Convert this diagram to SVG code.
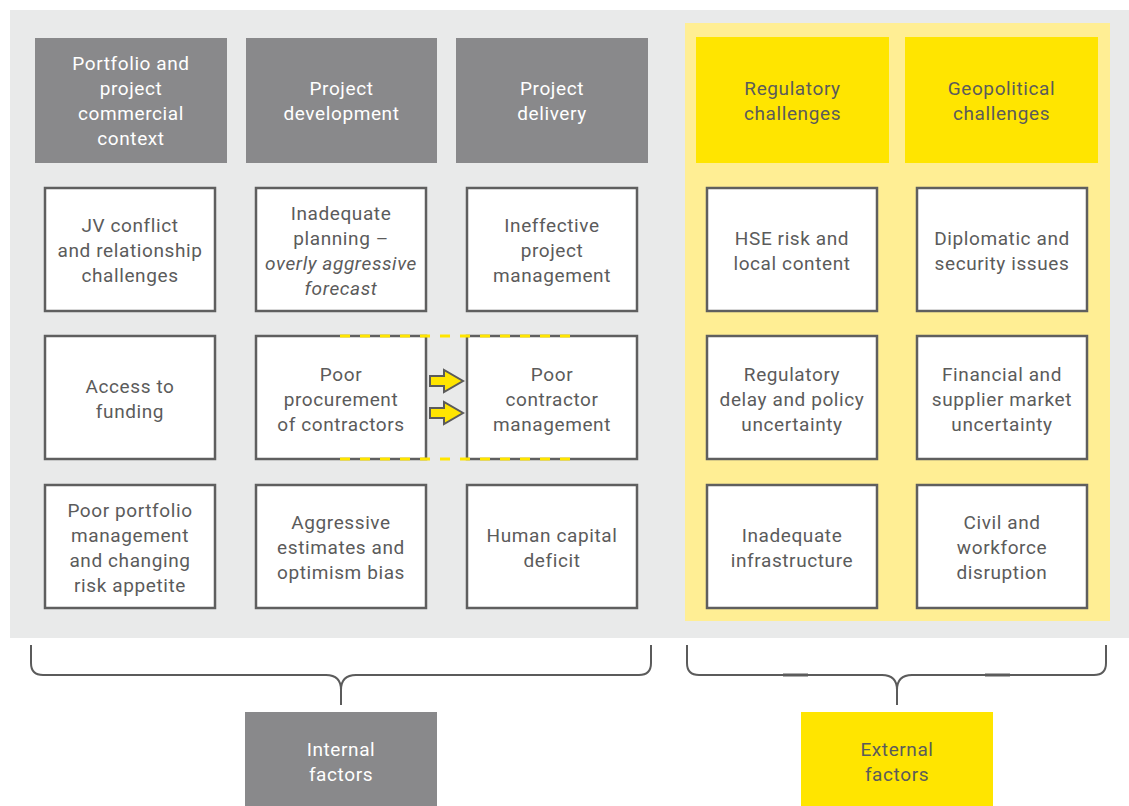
<svg xmlns="http://www.w3.org/2000/svg" width="1129" height="806" viewBox="0 0 1129 806">
<style>
text{font-family:"Liberation Sans Narrow","Roboto","Liberation Sans",sans-serif;font-size:19px;text-anchor:middle;letter-spacing:0.6px;fill:#5b5b5b}
.hg{fill:#89898b}
.hy{fill:#ffe500}
.w{fill:#fff}
.box{fill:#fff;stroke:#5f5f5f;stroke-width:2.5}
.it{font-style:italic}
.brace{fill:none;stroke:#5b5b5b;stroke-width:2}
.arr{fill:#ffe500;stroke:#5b5b5b;stroke-width:2;stroke-linejoin:miter}
.dash{stroke:#ffe500;stroke-width:3;stroke-dasharray:10 10;fill:none}
</style>
<rect x="0" y="0" width="1129" height="806" fill="#fff"/>
<rect x="10" y="10" width="1119" height="628" fill="#e9eaea"/>
<rect x="685" y="23" width="425" height="598" fill="#ffee94"/>

<g id="h-portfolio"><rect class="hg" x="35" y="38" width="192" height="125"/>
<text class="w" x="131" y="70">Portfolio and</text><text class="w" x="131" y="95">project</text><text class="w" x="131" y="120">commercial</text><text class="w" x="131" y="145">context</text></g>
<g id="h-development"><rect class="hg" x="246" y="38" width="191" height="125"/>
<text class="w" x="341.5" y="95">Project</text><text class="w" x="341.5" y="120">development</text></g>
<g id="h-delivery"><rect class="hg" x="456" y="38" width="192" height="125"/>
<text class="w" x="552" y="95">Project</text><text class="w" x="552" y="120">delivery</text></g>
<g id="h-regulatory"><rect class="hy" x="696" y="37" width="193" height="126"/>
<text x="792.5" y="95">Regulatory</text><text x="792.5" y="120">challenges</text></g>
<g id="h-geopolitical"><rect class="hy" x="905" y="37" width="193" height="126"/>
<text x="1001.5" y="95">Geopolitical</text><text x="1001.5" y="120">challenges</text></g>

<g id="n-jv"><rect class="box" x="45" y="188" width="170" height="123"/>
<text x="130" y="232">JV conflict</text><text x="130" y="257">and relationship</text><text x="130" y="282">challenges</text></g>
<g id="n-planning"><rect class="box" x="256" y="188" width="170" height="123"/>
<text x="341" y="220">Inadequate</text><text x="341" y="245">planning –</text><text class="it" x="341" y="270">overly aggressive</text><text class="it" x="341" y="295">forecast</text></g>
<g id="n-ineffective"><rect class="box" x="467" y="188" width="170" height="123"/>
<text x="552" y="232">Ineffective</text><text x="552" y="257">project</text><text x="552" y="282">management</text></g>

<g id="n-funding"><rect class="box" x="45" y="336" width="170" height="123"/>
<text x="130" y="393">Access to</text><text x="130" y="418">funding</text></g>
<g id="n-procurement"><rect class="box" x="256" y="336" width="170" height="123"/>
<text x="341" y="381">Poor</text><text x="341" y="406">procurement</text><text x="341" y="431">of contractors</text></g>
<g id="n-contractor"><rect class="box" x="467" y="336" width="170" height="123"/>
<text x="552" y="381">Poor</text><text x="552" y="406">contractor</text><text x="552" y="431">management</text></g>

<g id="n-portfolio"><rect class="box" x="45" y="485" width="170" height="123"/>
<text x="130" y="517">Poor portfolio</text><text x="130" y="542">management</text><text x="130" y="567">and changing</text><text x="130" y="592">risk appetite</text></g>
<g id="n-estimates"><rect class="box" x="256" y="485" width="170" height="123"/>
<text x="341" y="529">Aggressive</text><text x="341" y="554">estimates and</text><text x="341" y="579">optimism bias</text></g>
<g id="n-human"><rect class="box" x="467" y="485" width="170" height="123"/>
<text x="552" y="542">Human capital</text><text x="552" y="567">deficit</text></g>

<g id="n-hse"><rect class="box" x="707" y="188" width="170" height="123"/>
<text x="792" y="245">HSE risk and</text><text x="792" y="270">local content</text></g>
<g id="n-diplomatic"><rect class="box" x="917" y="188" width="170" height="123"/>
<text x="1002" y="245">Diplomatic and</text><text x="1002" y="270">security issues</text></g>
<g id="n-regdelay"><rect class="box" x="707" y="336" width="170" height="123"/>
<text x="792" y="381">Regulatory</text><text x="792" y="406">delay and policy</text><text x="792" y="431">uncertainty</text></g>
<g id="n-financial"><rect class="box" x="917" y="336" width="170" height="123"/>
<text x="1002" y="381">Financial and</text><text x="1002" y="406">supplier market</text><text x="1002" y="431">uncertainty</text></g>
<g id="n-infra"><rect class="box" x="707" y="485" width="170" height="123"/>
<text x="792" y="542">Inadequate</text><text x="792" y="567">infrastructure</text></g>
<g id="n-civil"><rect class="box" x="917" y="485" width="170" height="123"/>
<text x="1002" y="529">Civil and</text><text x="1002" y="554">workforce</text><text x="1002" y="579">disruption</text></g>

<g id="connectors">
<line class="dash" x1="340" y1="336" x2="580" y2="336"/>
<line class="dash" x1="340" y1="459" x2="580" y2="459"/>
<polygon class="arr" points="430,376 444,376 444,370 463,381 444,392 444,386 430,386"/>
<polygon class="arr" points="430,408 444,408 444,402 463,413 444,424 444,418 430,418"/>
<path class="brace" d="M31,645 V663 Q31,675 43,675 H326 Q341,675 341,690 V705 M651,645 V663 Q651,675 639,675 H356 Q341,675 341,690"/>
<path class="brace" d="M687,645 V663 Q687,675 699,675 H882 Q897,675 897,690 V705 M1106,645 V663 Q1106,675 1094,675 H912 Q897,675 897,690"/>
<line x1="783" y1="675" x2="808" y2="675" stroke="#5b5b5b" stroke-width="3"/>
<line x1="985" y1="675" x2="1010" y2="675" stroke="#5b5b5b" stroke-width="3"/>
</g>

<g id="internal"><rect class="hg" x="245" y="712" width="192" height="94"/>
<text class="w" x="341" y="756">Internal</text><text class="w" x="341" y="781">factors</text></g>
<g id="external"><rect class="hy" x="801" y="712" width="192" height="94"/>
<text x="897" y="756">External</text><text x="897" y="781">factors</text></g>
</svg>
